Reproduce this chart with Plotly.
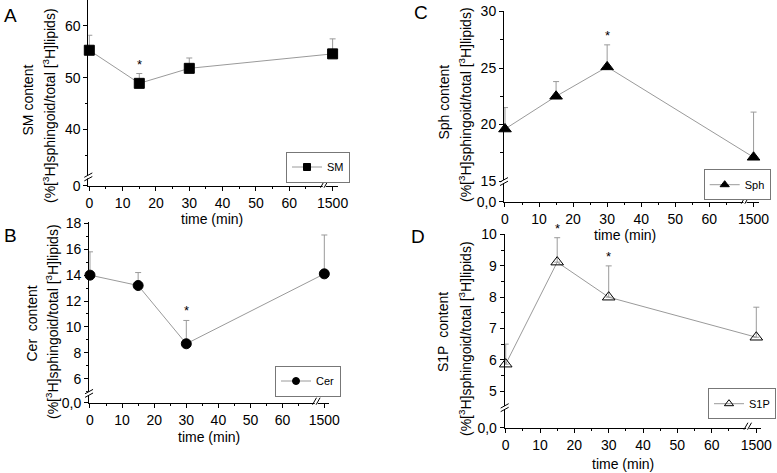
import plotly.graph_objects as go

# ---------------- data ----------------
TIME = [0, 15, 30, 1500]                      # minutes
X_TICK_TIMES = [0, 10, 20, 30, 40, 50, 60, 1500]
X_TICK_LABELS = ["0", "10", "20", "30", "40", "50", "60", "1500"]
X_MINOR_TIMES = [5, 15, 25, 35, 45, 55, 65]

SM_MEAN = [55.3, 48.9, 51.8, 54.6]
SM_ERR = [2.9, 1.9, 2.0, 2.9]
CER_MEAN = [14.0, 13.2, 8.7, 14.1]
CER_ERR = [1.8, 1.0, 1.8, 3.0]
SPH_MEAN = [19.6, 22.5, 25.1, 17.1]
SPH_ERR = [1.9, 1.3, 1.95, 4.0]
S1P_MEAN = [5.86, 9.12, 8.0, 6.72]
S1P_ERR = [0.64, 0.78, 1.0, 0.96]

SM_SIGNIF = [15]
CER_SIGNIF = [30]
SPH_SIGNIF = [30]
S1P_SIGNIF = [15, 30]

SM_YTICKS = [40, 50, 60]
SM_YMINOR = [35, 45, 55]
CER_YTICKS = [6, 8, 10, 12, 14, 16, 18]
CER_YMINOR = [5, 7, 9, 11, 13, 15, 17]
SPH_YTICKS = [15, 20, 25, 30]
SPH_YMINOR = [17.5, 22.5, 27.5]
S1P_YTICKS = [5, 6, 7, 8, 9, 10]
S1P_YMINOR = [5.5, 6.5, 7.5, 8.5, 9.5]

# ---------------- layout geometry ----------------
W, H = 777, 473
FONT = "Liberation Sans, Arial, sans-serif"
LINE_GRAY = "#9a9a9a"
X_BREAK_POS = 73.0     # axis position where the 1500 min point is drawn
X_BREAK_MARK = 70.5
X_RANGE = [-0.3, 74.5]


def axis_pos(t):
    return t if t <= 65 else X_BREAK_POS


def px_x(p):
    return p / W


def px_y(p):
    return 1 - p / H


panels = [
    dict(key="A", name="SM", mean=SM_MEAN, err=SM_ERR, signif=SM_SIGNIF,
         yticks=SM_YTICKS, yminor=SM_YMINOR, bottom_label="0",
         x0px=89.3, xscale=3.333, yrange=[29.1, 65.0], ybot=185.7, yscale=5.17,
         ybreak=30.8, symbol="square", msize=10, lsize=7,
         legend_rc=(350, 167), letter=(10, 15), ytitle=("SM content", 27.5, 100, 49, 105),
         xtitle=(212, 219)),
    dict(key="B", name="Cer", mean=CER_MEAN, err=CER_ERR, signif=CER_SIGNIF,
         yticks=CER_YTICKS, yminor=CER_YMINOR, bottom_label="0,0",
         x0px=90.0, xscale=3.21, yrange=[4.15, 18.1], ybot=402.7, yscale=12.95,
         ybreak=4.87, symbol="circle", msize=10, lsize=7,
         legend_rc=(341, 381), letter=(10, 235), ytitle=("Cer&nbsp; content", 31.5, 324, 52, 322),
         xtitle=(209, 437)),
    dict(key="C", name="Sph", mean=SPH_MEAN, err=SPH_ERR, signif=SPH_SIGNIF,
         yticks=SPH_YTICKS, yminor=SPH_YMINOR, bottom_label="0,0",
         x0px=505.0, xscale=3.405, yrange=[13.17, 30.05], ybot=201.7, yscale=11.3,
         ybreak=14.95, symbol="triangle-up", msize=11, lsize=8,
         legend_rc=(770.7, 184.7), letter=(421, 13), ytitle=("Sph content", 443, 102.5, 465, 105),
         xtitle=(625, 235)),
    dict(key="D", name="S1P", mean=S1P_MEAN, err=S1P_ERR, signif=S1P_SIGNIF,
         yticks=S1P_YTICKS, yminor=S1P_YMINOR, bottom_label="0,0",
         x0px=505.7, xscale=3.433, yrange=[3.83, 10.02], ybot=427.7, yscale=31.3,
         ybreak=4.47, symbol="triangle-up-open", msize=11, lsize=8,
         legend_rc=(776, 403.7), letter=(418, 236), ytitle=("S1P&nbsp; content", 443, 332, 465, 339),
         xtitle=(623, 464)),
]

fig = go.Figure()
shapes = []
annotations = []

for i, p in enumerate(panels):
    n = "" if i == 0 else str(i + 1)
    xa, ya = "x" + n, "y" + n
    legend_id = "legend" + n

    yr = list(p["yrange"])
    left = p["x0px"] + X_RANGE[0] * p["xscale"]
    right = p["x0px"] + X_RANGE[1] * p["xscale"]
    bot = p["ybot"]
    top = max(0.0, bot - (yr[1] - yr[0]) * p["yscale"])
    yr[1] = yr[0] + (bot - top) / p["yscale"]

    def vx(v, p=p):
        return p["x0px"] + v * p["xscale"]

    def vy(v, p=p):
        return p["ybot"] - (v - p["yrange"][0]) * p["yscale"]

    xs = [axis_pos(t) for t in TIME]
    fig.add_trace(go.Scatter(
        x=xs, y=p["mean"], xaxis=xa, yaxis=ya, mode="lines+markers",
        line=dict(color=LINE_GRAY, width=1),
        marker=dict(symbol=p["symbol"], size=p["msize"], color="black",
                    line=dict(color="black", width=1)),
        error_y=dict(type="data", array=p["err"], arrayminus=[0] * len(p["err"]),
                     symmetric=False, color=LINE_GRAY, thickness=1, width=3),
        cliponaxis=False, showlegend=False, name=p["name"]))
    # legend entry
    fig.add_trace(go.Scatter(
        x=[None], y=[None], xaxis=xa, yaxis=ya, mode="lines+markers",
        line=dict(color=LINE_GRAY, width=1),
        marker=dict(symbol=p["symbol"], size=p["lsize"], color="black",
                    line=dict(color="black", width=1)),
        name=p["name"], legend=legend_id, showlegend=True))

    fig.layout[legend_id] = dict(
        x=px_x(p["legend_rc"][0]), y=px_y(p["legend_rc"][1]),
        xanchor="right", yanchor="middle", borderwidth=1, bordercolor="#777777",
        bgcolor="white", font=dict(family=FONT, size=11, color="black"),
        itemwidth=30, tracegroupgap=0)

    fig.layout["xaxis" + n] = dict(
        domain=[px_x(left), px_x(right)], range=X_RANGE, anchor=ya, automargin=False,
        tickmode="array", tickvals=[axis_pos(t) for t in X_TICK_TIMES],
        ticktext=X_TICK_LABELS, ticks="outside", ticklen=4, tickwidth=1,
        tickcolor="black", showline=True, linecolor="black", linewidth=1,
        showgrid=False, zeroline=False, ticklabeloverflow="allow",
        tickfont=dict(family=FONT, size=14, color="black"),
        minor=dict(tickmode="array", tickvals=X_MINOR_TIMES, ticks="outside",
                   ticklen=2.5, tickcolor="black", showgrid=False))
    fig.layout["yaxis" + n] = dict(
        domain=[px_y(bot), px_y(top)], range=yr, anchor=xa, automargin=False,
        tickmode="array", tickvals=[p["yrange"][0]] + p["yticks"],
        ticktext=[p["bottom_label"]] + [str(v) for v in p["yticks"]],
        ticks="outside", ticklen=4, tickwidth=1, tickcolor="black",
        showline=True, linecolor="black", linewidth=1, showgrid=False,
        zeroline=False, ticklabeloverflow="allow",
        tickfont=dict(family=FONT, size=14, color="black"),
        minor=dict(tickmode="array", tickvals=p["yminor"], ticks="outside",
                   ticklen=2.5, tickcolor="black", showgrid=False))

    # y-axis break marks
    ax_x = left
    cy = vy(p["ybreak"])
    shapes.append(dict(type="rect", xref="paper", yref="paper",
                       x0=px_x(ax_x - 2.5), x1=px_x(ax_x + 2.5),
                       y0=px_y(cy + 1.6), y1=px_y(cy - 1.6),
                       fillcolor="white", line=dict(width=0)))
    for o in (-1.8, 1.8):
        shapes.append(dict(type="line", xref="paper", yref="paper",
                           x0=px_x(ax_x - 4), y0=px_y(cy + o + 2.2),
                           x1=px_x(ax_x + 4), y1=px_y(cy + o - 2.2),
                           line=dict(color="black", width=1)))
    # x-axis break marks
    bx = vx(X_BREAK_MARK)
    shapes.append(dict(type="rect", xref="paper", yref="paper",
                       x0=px_x(bx - 1.6), x1=px_x(bx + 1.6),
                       y0=px_y(bot + 2), y1=px_y(bot - 2),
                       fillcolor="white", line=dict(width=0)))
    for o in (-1.8, 1.8):
        shapes.append(dict(type="line", xref="paper", yref="paper",
                           x0=px_x(bx + o - 2), y0=px_y(bot + 2),
                           x1=px_x(bx + o + 2), y1=px_y(bot - 5),
                           line=dict(color="black", width=1)))

    # significance stars
    for t in p["signif"]:
        k = TIME.index(t)
        annotations.append(dict(
            x=axis_pos(t), y=p["mean"][k] + p["err"][k], xref=xa, yref=ya,
            text="*", showarrow=False, yanchor="bottom", yshift=0,
            font=dict(family=FONT, size=13, color="black")))

    # panel letter
    annotations.append(dict(
        x=px_x(p["letter"][0]), y=px_y(p["letter"][1]), xref="paper", yref="paper",
        text=p["key"], showarrow=False, xanchor="center", yanchor="middle",
        font=dict(family=FONT, size=19, color="black")))

    # y-axis titles (two lines)
    t1, x1p, y1p, x2p, y2p = p["ytitle"]
    annotations.append(dict(
        x=px_x(x1p), y=px_y(y1p), xref="paper", yref="paper", text=t1,
        textangle=-90, showarrow=False, xanchor="center", yanchor="middle",
        font=dict(family=FONT, size=14, color="black")))
    annotations.append(dict(
        x=px_x(x2p), y=px_y(y2p), xref="paper", yref="paper",
        text="(%[<sup>3</sup>H]sphingoid/total [<sup>3</sup>H]lipids)",
        textangle=-90, showarrow=False, xanchor="center", yanchor="middle",
        font=dict(family=FONT, size=14, color="black")))

    # x-axis title
    annotations.append(dict(
        x=px_x(p["xtitle"][0]), y=px_y(p["xtitle"][1]), xref="paper", yref="paper",
        text="time (min)", showarrow=False, xanchor="center", yanchor="middle",
        font=dict(family=FONT, size=14, color="black")))

fig.update_layout(
    width=W, height=H, margin=dict(l=0, r=0, t=0, b=0, autoexpand=False),
    paper_bgcolor="white", plot_bgcolor="white", hovermode=False,
    font=dict(family=FONT, size=14, color="black"),
    shapes=shapes, annotations=annotations)

# remove the default page margin so the figure sits at the window's corner
fig.write_html("out.html", config={"displayModeBar": False, "staticPlot": True},
               post_script="document.body.style.margin='0';document.body.style.padding='0';")
